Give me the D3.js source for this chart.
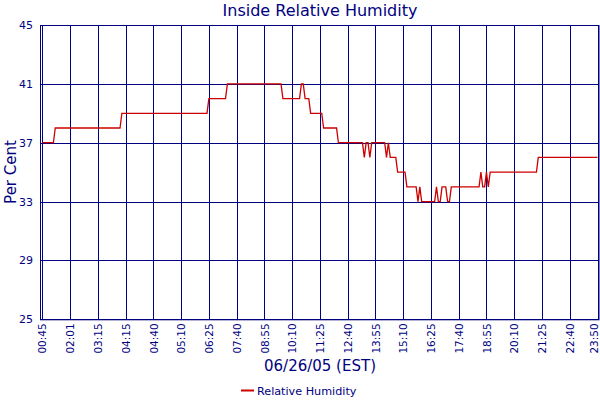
<!DOCTYPE html>
<html><head><meta charset="utf-8">
<script src="https://cdn.jsdelivr.net/npm/d3@7"></script>
<style>
html,body{margin:0;padding:0;background:#fff;}
svg{display:block;}
text{font-family:"DejaVu Sans",Verdana,sans-serif;fill:#000080;}
</style></head>
<body>
<script>
const timeLabels = ["00:45","02:01","03:15","04:15","04:40","05:10","06:25","07:40","08:55","10:10","11:25","12:40","13:55","15:10","16:25","17:40","18:55","20:10","21:25","22:40","23:50"];
const yTicks = [25,29,33,37,41,45];
const humidity = [
37,37,37,37,37,37,37,
38,38,38,38,38,38,38,38,38,38,38,38,38,38,38,38,38,38,38,38,38,38,38,38,38,38,38,38,38,38,38,38,38,38,38,38,
39,39,39,39,39,39,39,39,39,39,39,39,39,39,39,39,39,39,39,39,39,39,39,39,39,39,39,39,39,39,39,39,39,39,39,39,39,39,39,39,39,39,39,39,39,39,39,
40,40,40,40,40,40,40,40,40,40,
41,41,41,41,41,41,41,41,41,41,41,41,41,41,41,41,41,41,41,41,41,41,41,41,41,41,41,41,41,41,
40,40,40,40,40,40,40,40,40,40,
41,41,
40,40,40,
39,39,39,39,39,39,39,
38,38,38,38,38,38,38,38,
37,37,37,37,37,37,37,37,37,37,37,37,37,37,
36,37,37,36,
37,37,37,37,37,37,37,37,
36,37,36,36,36,36,
35,35,35,35,35,
34,34,34,34,34,34,
33,34,33,33,33,33,33,33,33,33,
34,33,33,34,34,34,33,33,
34,34,34,34,34,34,34,34,34,34,34,34,34,34,34,34,
35,34,34,35,34,
35,35,35,35,35,35,35,35,35,35,35,35,35,35,35,35,35,35,35,35,35,35,35,35,35,35,
36,36,36,36,36,36,36,36,36,36,36,36,36,36,36,36,36,36,36,36,36,36,36,36,36,36,36,36,36,36,36,36,36
];
const seriesName = "Relative Humidity";
const chartTitle = "Inside Relative Humidity";
const xTitle = "06/26/05 (EST)";
const yTitle = "Per Cent";

const W = 600, H = 400;
const mLeft = 42.3, mRight = 597.5, mTop = 25, mBottom = 319.3;
const navy = "#000080", red = "#cc0000";
const FONT = '"DejaVu Sans",Verdana,sans-serif';

const svg = d3.select("body").append("svg").attr("width", W).attr("height", H);

const x = d3.scaleLinear().domain([0, humidity.length - 1]).range([mLeft, mRight]);
const y = d3.scaleLinear().domain([25, 45]).range([mBottom, mTop]);
const tickIdx = timeLabels.map((d, i) => i * 15);

// frame
svg.append("rect").attr("x", 40.5).attr("y", mTop + 0.5).attr("width", 599 - 40.5).attr("height", mBottom - mTop)
  .attr("fill", "none").attr("stroke", navy).attr("stroke-width", 1);

// horizontal grid
svg.append("g").selectAll("line").data(yTicks).join("line")
  .attr("x1", 40.5).attr("x2", 599).attr("y1", d => Math.round(y(d)) + 0.5).attr("y2", d => Math.round(y(d)) + 0.5)
  .attr("stroke", navy).attr("stroke-width", 1);

// vertical grid
svg.append("g").selectAll("line").data(tickIdx).join("line")
  .attr("x1", d => Math.round(x(d)) + 0.5).attr("x2", d => Math.round(x(d)) + 0.5)
  .attr("y1", mTop).attr("y2", mBottom)
  .attr("stroke", navy).attr("stroke-width", 1);

// y axis labels
const yAxis = d3.axisLeft(y).tickValues(yTicks).tickSize(0).tickPadding(7).tickFormat(d3.format("d"));
const gy = svg.append("g").attr("transform", `translate(40,0)`).call(yAxis);
gy.select(".domain").remove();
gy.selectAll("text").attr("font-size", 11).attr("fill", navy).style("font-family", FONT);

// x axis labels
const xAxis = d3.axisBottom(x).tickValues(tickIdx).tickSize(0).tickFormat((d, i) => timeLabels[i]);
const gx = svg.append("g").attr("transform", `translate(0,${mBottom})`).call(xAxis);
gx.select(".domain").remove();
// keep the last label inside the picture
gx.selectAll(".tick").filter((d, i) => i === timeLabels.length - 1)
  .attr("transform", d => `translate(${Math.min(x(d), 594.5)},0)`);
gx.selectAll("text").attr("font-size", 10.5).attr("fill", navy)
  .style("font-family", FONT)
  .attr("transform", "rotate(-90)").attr("text-anchor", "end")
  .attr("x", -4).attr("y", 0).attr("dy", "0.35em");

// line
const line = d3.line().x((d, i) => x(i)).y(d => y(d));
svg.append("path").datum(humidity).attr("d", line)
  .attr("fill", "none").attr("stroke", red).attr("stroke-width", 1.3).attr("stroke-linejoin", "miter");

// titles
svg.append("text").attr("x", 320).attr("y", 16).attr("text-anchor", "middle").attr("font-size", 16).text(chartTitle);
svg.append("text").attr("transform", "translate(16,172) rotate(-90)").attr("text-anchor", "middle").attr("font-size", 15).text(yTitle);
svg.append("text").attr("x", 320).attr("y", 371).attr("text-anchor", "middle").attr("font-size", 15).text(xTitle);

// legend
svg.append("line").attr("x1", 241).attr("x2", 254).attr("y1", 390.5).attr("y2", 390.5).attr("stroke", red).attr("stroke-width", 2);
svg.append("text").attr("x", 257).attr("y", 395).attr("font-size", 11.2).text(seriesName);
</script>
</body></html>
